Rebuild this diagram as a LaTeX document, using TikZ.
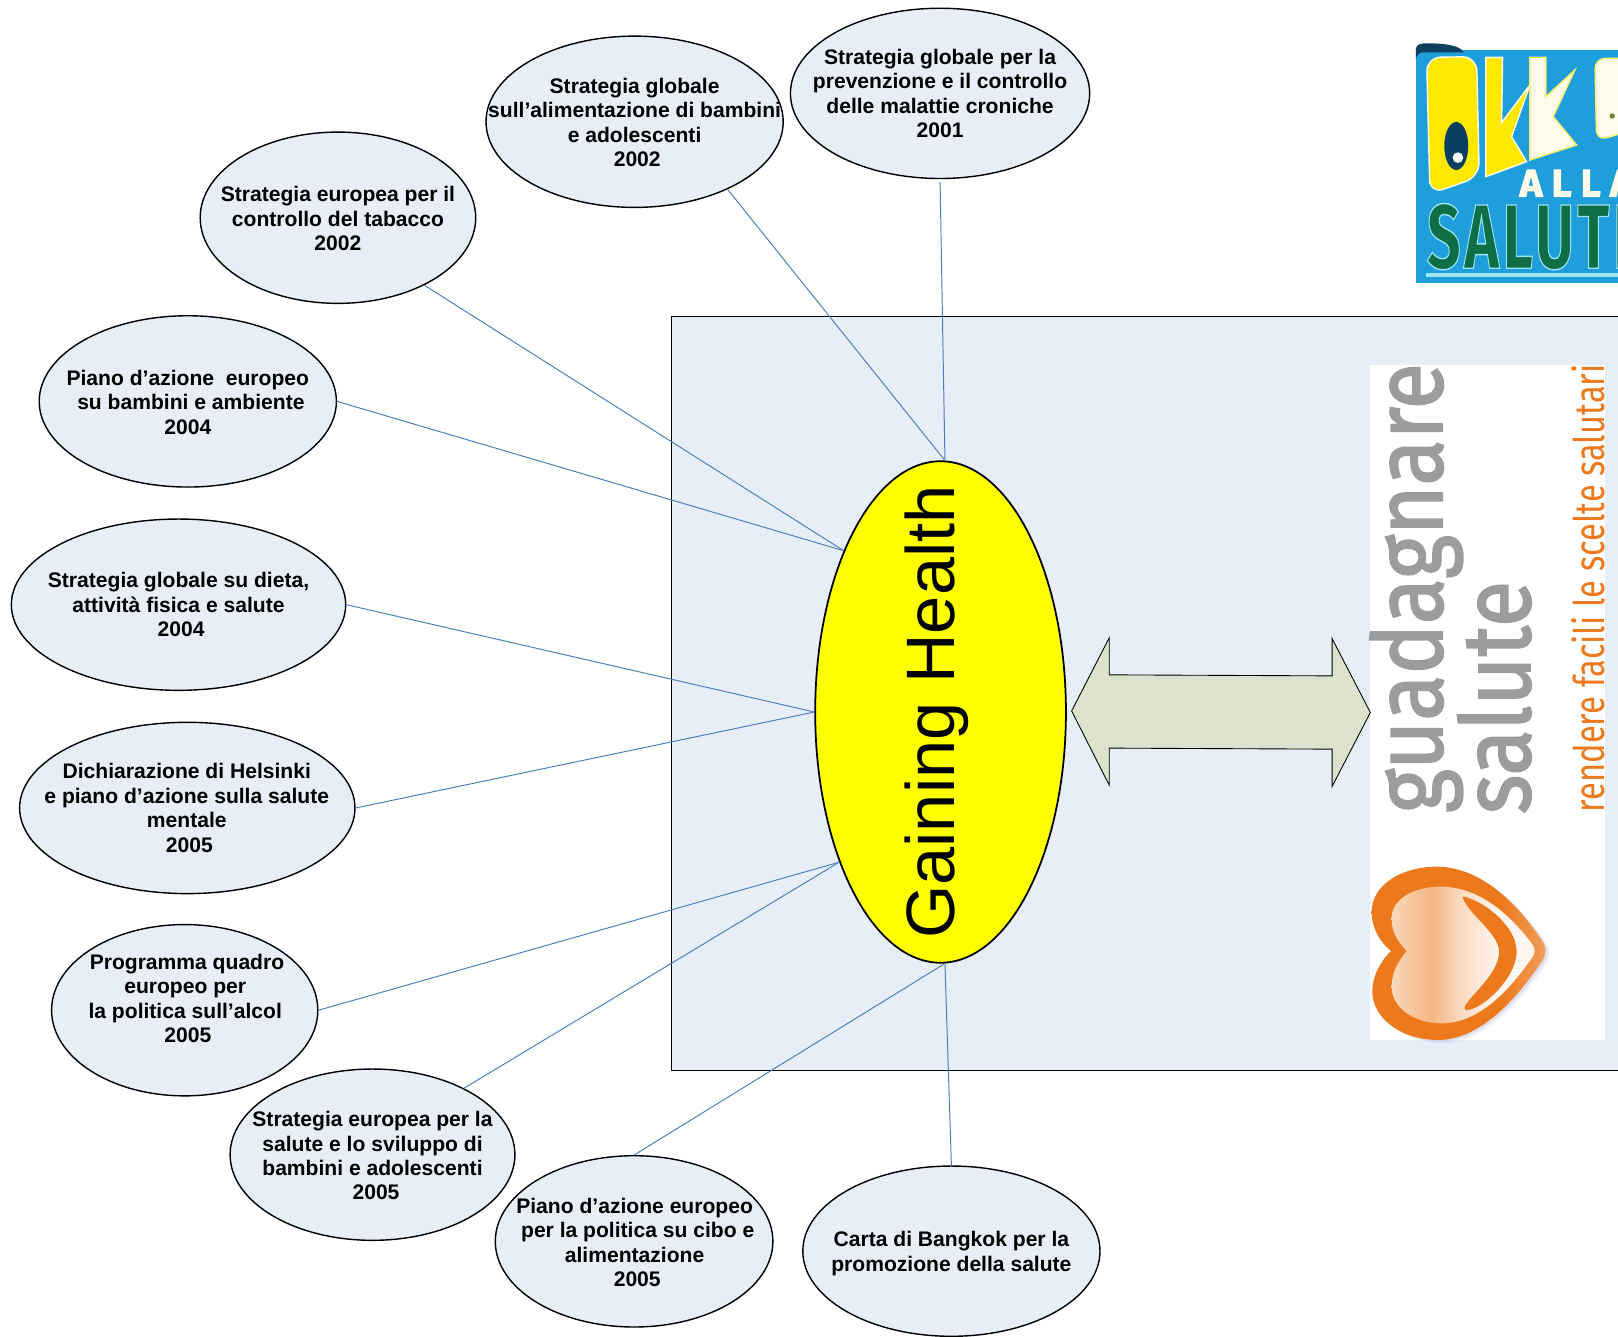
\documentclass[tikz,border=0pt]{standalone}
\usepackage{fontspec}
\setmainfont{Liberation Sans}
\newfontfamily\logofont{Fira Sans}
\usetikzlibrary{shapes.geometric}
\definecolor{panelfill}{HTML}{E7EEF8}
\definecolor{linkblue}{HTML}{4A7EBB}
\definecolor{arrowfill}{HTML}{DDE2CC}
\definecolor{logogrey}{HTML}{9A9C9D}
\definecolor{logoorange}{HTML}{EC7A1C}
\definecolor{okblue}{HTML}{1E9FDC}
\definecolor{okdark}{HTML}{0B3F5F}
\definecolor{okyellow}{HTML}{FFE800}
\definecolor{okcream}{HTML}{FFFBEA}
\definecolor{okgreen}{HTML}{0F6E45}
\definecolor{oklight}{HTML}{9FE6F2}
\definecolor{centeryellow}{HTML}{FFFF00}
\pgfdeclarehorizontalshading{heartinner}{100bp}{color(0bp)=(white!70!logoorange);color(25bp)=(white!70!logoorange);color(39bp)=(white!45!logoorange);color(50bp)=(white!75!logoorange);color(62bp)=(white!93!logoorange);color(100bp)=(white!95!logoorange)}
\pgfdeclarehorizontalshading{heartouter}{100bp}{color(0bp)=(logoorange);color(62bp)=(logoorange);color(75bp)=(white!28!logoorange);color(100bp)=(white!28!logoorange)}
\newcommand{\strokedtext}[3]{\special{pdf:code q 2 Tr #1 w #2 RG}#3\special{pdf:code Q}}
\tikzset{
  oval/.style 2 args={ellipse,draw=black,line width=0.8pt,fill=panelfill,inner sep=0pt,
    minimum width=#1*0.02064cm,minimum height=#2*0.02064cm},
  ovaltext/.style={align=center,inner sep=0pt,font=\bfseries\fontsize{12}{13.9}\selectfont},
  link/.style={draw=linkblue,line width=0.55pt},
  logotext/.style={rotate=90,anchor=base,inner sep=0pt},
}
\begin{document}
\begin{tikzpicture}[x=0.02064cm,y=-0.02064cm]
\useasboundingbox (0,0) rectangle (1568,1295);
\clip (0,0) rectangle (1568,1295);
% panel
\node[draw=black,line width=0.4pt,fill=panelfill,inner sep=0pt,minimum width=1000*0.02064cm,minimum height=730*0.02064cm,anchor=north west] (panel) at (650.6,306.6) {};
% white image panel
\fill[white] (1328,354) rectangle (1555,1008);
% heart
\begin{scope}[shift={(1322.8,828.6)},x=0.006667cm,y=-0.006667cm]
\def\heartouterpath{(78,288) .. controls (50,265) and (20,225) .. (20,170) .. controls (20,90) and (110,35) .. (215,35) .. controls (330,35) and (440,120) .. (530,255) .. controls (545,275) and (545,300) .. (530,320) .. controls (450,440) and (340,555) .. (220,555) .. controls (110,555) and (22,490) .. (22,410) .. controls (22,360) and (50,315) .. (78,288) -- cycle}
\begin{scope}[shift={(14,10)}]\fill[gray!60!blue!40,opacity=.18] \heartouterpath;\end{scope}
\begin{scope}[shift={(7,5)}]\fill[gray!60!blue!40,opacity=.3] \heartouterpath;\end{scope}
\shade[shading=heartouter] \heartouterpath;
\shade[shading=heartinner] (125,288) .. controls (100,260) and (80,235) .. (80,190) .. controls (80,130) and (150,95) .. (225,95) .. controls (330,95) and (420,160) .. (500,265) .. controls (512,280) and (512,295) .. (500,310) .. controls (430,410) and (340,505) .. (230,505) .. controls (150,505) and (80,460) .. (80,395) .. controls (80,350) and (100,320) .. (125,288) -- cycle;
\fill[logoorange] (296,125) .. controls (350,135) and (455,210) .. (455,290) .. controls (455,370) and (350,465) .. (305,465) .. controls (295,465) and (298,455) .. (305,445) .. controls (340,400) and (400,350) .. (403,290) .. controls (400,240) and (330,190) .. (305,150) .. controls (295,135) and (290,125) .. (296,125) -- cycle;
\end{scope}
% logo text
\node[logotext,text=logogrey,xscale=.875] (tguadagnare) at (1397.6,570) {\logofont\fontsize{55}{55}\selectfont\strokedtext{1.1}{0.604 0.612 0.616}{guadagnare}};
\node[logotext,text=logogrey,xscale=.875] (tsalute) at (1482.7,676) {\logofont\fontsize{55}{55}\selectfont\strokedtext{1.1}{0.604 0.612 0.616}{salute}};
\node[logotext,text=logoorange,xscale=.775] (trendere) at (1554.5,570) {\logofont\fontsize{24}{24}\selectfont rendere facili le scelte salutari};
% double arrow
\path[draw=black,line width=0.5pt,fill=arrowfill] (1038.5,689) -- (1075,618) -- (1075,654) -- (1291,655) -- (1291,619) -- (1328,690.5) -- (1291,762) -- (1291,726) -- (1075,725) -- (1075,761) -- cycle;
% OKkio logo
\begin{scope}[shift={(1337.3,19.4)},x=0.006667cm,y=-0.006667cm]
\fill[okblue] (108,90) rectangle (760,790);
\fill[okdark] (108,118) -- (108,85) .. controls (110,72) and (125,70) .. (140,70) .. controls (190,70) and (240,75) .. (252,97) -- (130,97) .. controls (118,97) and (110,105) .. (108,118) -- cycle;
\path[fill=okyellow,draw=okcream,line width=0.8pt,rounded corners=8pt] (140,112) -- (290,110) -- (298,470) -- (150,522) -- cycle;
\fill[okdark] (229,378) ellipse [x radius=36,y radius=72];
\fill[white] (234,413) circle [radius=16];
\path[fill=okyellow,draw=okcream,line width=0.8pt] (318,112) -- (368,112) -- (365,308) -- (450,195) -- (395,350) -- (440,425) -- (318,470) -- cycle;
\path[fill=okcream,draw=okyellow!60!white,line width=0.8pt] (450,112) -- (498,112) -- (498,230) -- (585,150) -- (520,290) -- (590,375) -- (450,420) -- cycle;
\path[fill=okcream,draw=okyellow!60!white,line width=0.8pt,rounded corners=6pt] (645,115) -- (760,115) -- (760,330) -- (650,362) -- cycle;
\fill[okdark!60!okyellow] (697,288) circle [radius=8];
\node[anchor=west,inner sep=0pt,text=okcream] (talla) at (418,490) {\logofont\bfseries\fontsize{22}{22}\selectfont\addfontfeature{LetterSpace=24}\strokedtext{0.6}{1 0.98 0.9}{ALLA}};
\node[anchor=west,inner sep=0pt,text=okgreen,xscale=.65] (tsaluteok) at (140,650) {\logofont\bfseries\fontsize{52}{52}\selectfont\addfontfeature{LetterSpace=6}\strokedtext{0.8}{0.62 0.9 0.95}{SALUTE}};
\fill[oklight] (138,760) rectangle (760,770);
\end{scope}
% center
\node[ellipse,draw=black,line width=1pt,fill=centeryellow,inner sep=0pt,minimum width=243*0.02064cm,minimum height=486*0.02064cm] (center) at (911.5,690) {};
\node[rotate=90,inner sep=0pt,font=\fontsize{39}{39}\selectfont] (centertext) at (908,690) {Gaining Health};
% ovals
\node[oval={290}{165}] (e1) at (911,90.5) {};
\node[oval={288}{166}] (e2) at (615,118) {};
\node[oval={267}{166}] (e3) at (327.5,211) {};
\node[oval={288}{166}] (e4) at (182,389) {};
\node[oval={324}{166}] (e5) at (173,586) {};
\node[oval={325}{166}] (e6) at (181.5,783) {};
\node[oval={258}{166}] (e7) at (179,979) {};
\node[oval={276}{166}] (e8) at (361,1119) {};
\node[oval={269}{166}] (e9) at (614.5,1203) {};
\node[oval={288}{165}] (e10) at (922,1212.5) {};
% connectors
\draw[link,shorten <=0.06cm] (e1.south) -- (center.89.4);
\draw[link] (e2.-36) -- (center.89.4);
\draw[link] (e3.-38) -- (center.121.7);
\draw[link] (e4.east) -- (center.121.7);
\draw[link] (e5.east) -- (center.west);
\draw[link] (e6.east) -- (center.west);
\draw[link] (e7.east) -- (center.236);
\draw[link] (e8.36.4) -- (center.236);
\draw[link] (e9.north) -- (center.-89.4);
\draw[link] (e10.north) -- (center.-89.4);
% oval texts
\node[ovaltext] (t1) at (911,90.5) {Strategia globale per la\\prevenzione e il controllo\\delle malattie croniche\\2001};
\node[ovaltext] (t2) at (615,118.5) {Strategia globale\\sull’alimentazione di bambini\\e adolescenti\\\hspace*{3pt}2002};
\node[ovaltext] (t3) at (327.5,212) {Strategia europea per il\\controllo del tabacco\\2002};
\node[ovaltext] (t4) at (182,390) {Piano d’azione\ \ europeo\\\hspace*{3.5pt}su bambini e ambiente\\2004};
\node[ovaltext] (t5) at (173,586) {Strategia globale su dieta,\\attività fisica e salute\\\hspace*{3pt}2004};
\node[ovaltext] (t6) at (181,783) {Dichiarazione di Helsinki\\e piano d’azione sulla salute\\mentale\\\hspace*{3pt}2005};
\node[ovaltext] (t7) at (179.5,967.5) {\hspace*{2pt}Programma quadro\\europeo per\\la politica sull’alcol\\\hspace*{3pt}2005};
\node[ovaltext] (t8) at (361,1120) {Strategia europea per la\\salute e lo sviluppo di\\bambini e adolescenti\\\hspace*{4pt}2005};
\node[ovaltext] (t9) at (615,1204) {Piano d’azione europeo\\\hspace*{3.5pt}per la politica su cibo e\\alimentazione\\\hspace*{3pt}2005};
\node[ovaltext] (t10) at (922,1215) {Carta di Bangkok per la\\promozione della salute};
\end{tikzpicture}
\end{document}
